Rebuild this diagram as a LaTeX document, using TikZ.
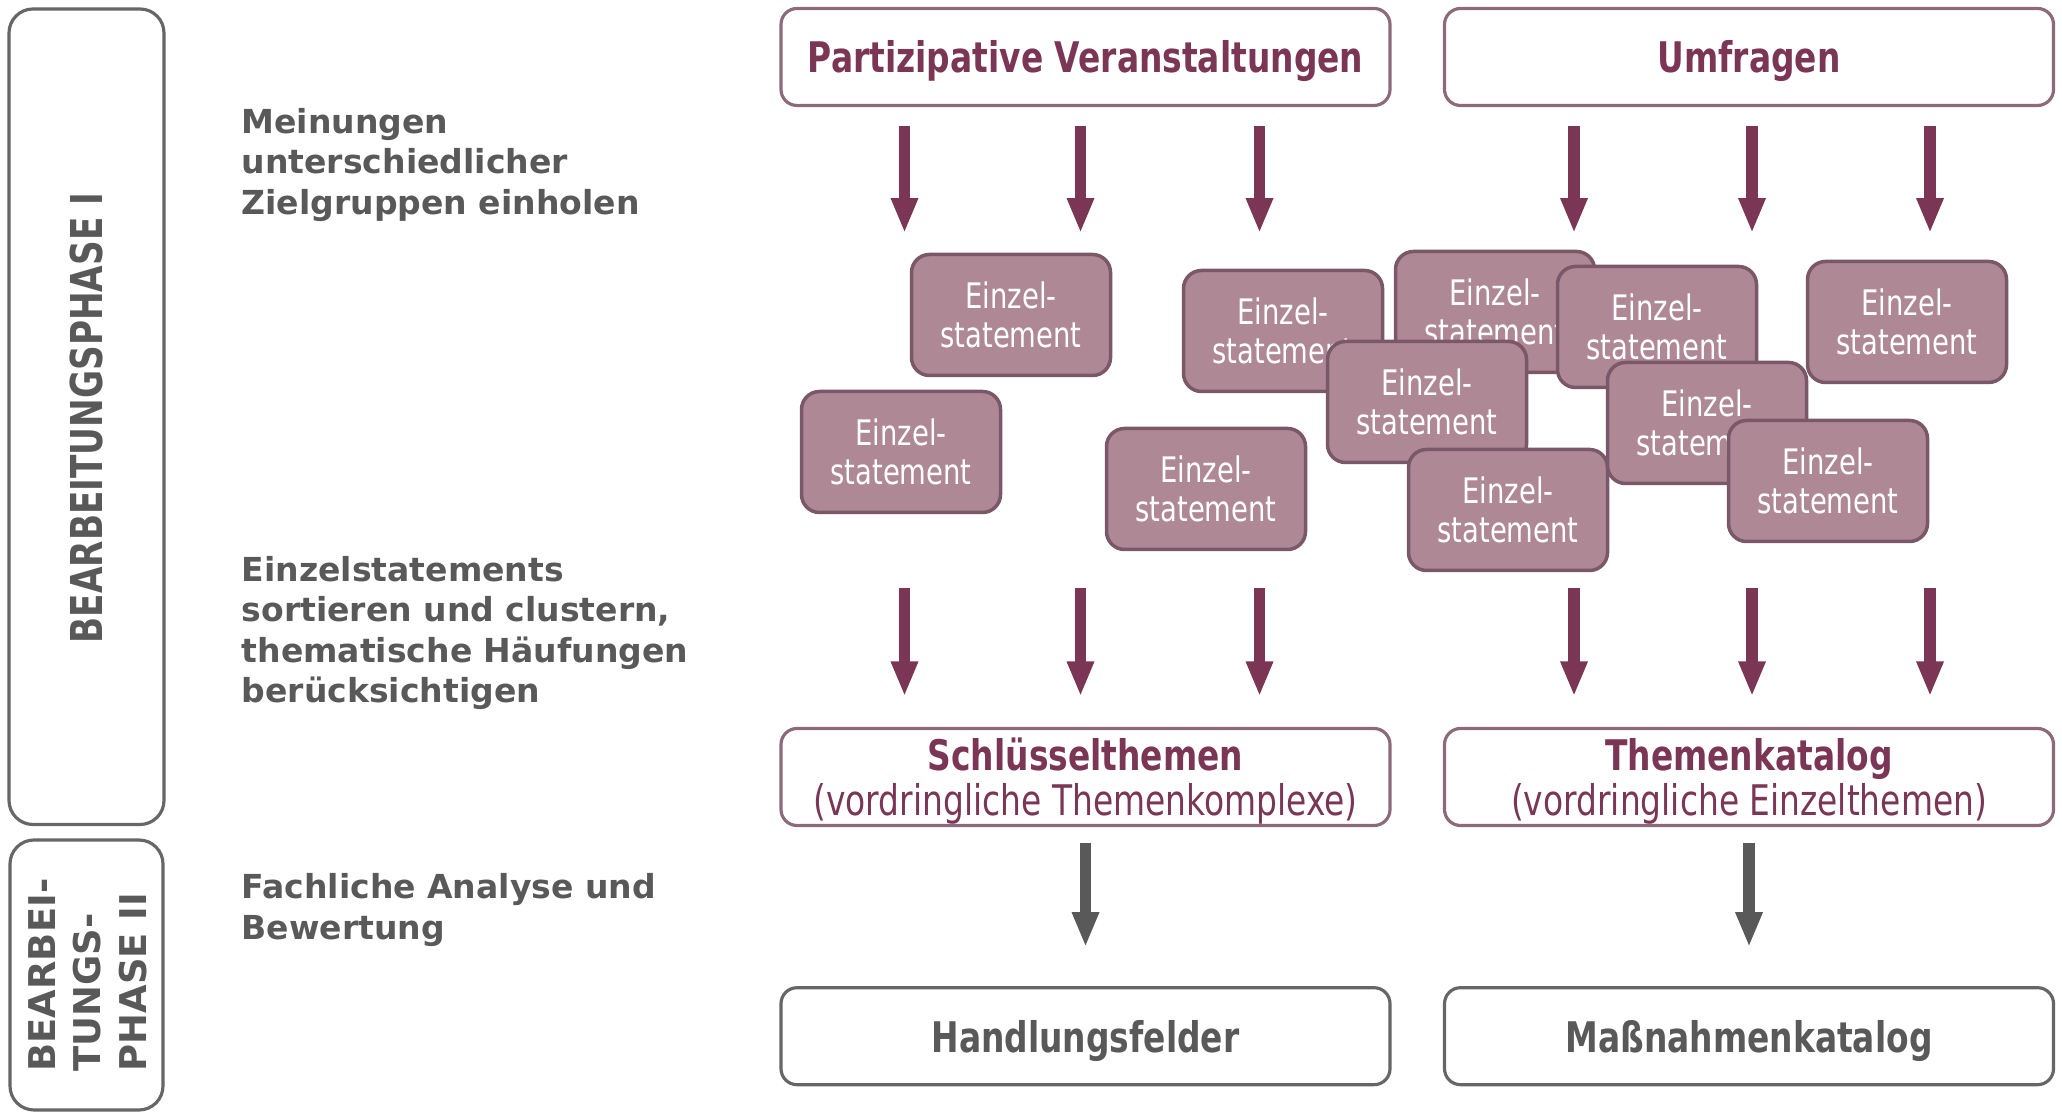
\documentclass[tikz,border=0pt]{standalone}
\usepackage{fontspec}
\setmainfont{DejaVu Sans}
\newfontfamily\narrowfont[FakeStretch=0.78]{DejaVu Sans}
\usetikzlibrary{arrows.meta}

\definecolor{plum}{HTML}{7B3656}
\definecolor{mauve}{HTML}{AF8896}
\definecolor{mauveline}{HTML}{7A5868}
\definecolor{boxline}{HTML}{8C6A79}
\definecolor{textgray}{HTML}{595959}
\definecolor{linegray}{HTML}{666666}

\tikzset{
  phasebox/.style={draw=linegray, line width=0.9pt, rounded corners=0.24cm},
  headbox/.style={draw=boxline, line width=0.9pt, rounded corners=0.16cm,
    minimum width=6.09cm, minimum height=0.97cm, inner ysep=0pt, align=center,
    text=plum, font=\narrowfont\fontsize{12}{12.7}\selectfont},
  titlebox/.style={headbox, text height=0.38cm, text depth=0.06cm,
    font=\narrowfont\bfseries\fontsize{12}{12.7}\selectfont},
  resultbox/.style={titlebox, draw=linegray, text=textgray},
  stmt/.style={draw=mauveline, fill=mauve, line width=1pt, rounded corners=0.18cm,
    minimum width=1.99cm, minimum height=1.21cm, inner sep=0pt, align=center,
    text=white, font=\narrowfont\fontsize{10}{11.2}\selectfont},
  steptext/.style={anchor=west, align=left, inner sep=0pt, text=textgray,
    font=\bfseries\fontsize{9.4}{11.4}\selectfont},
  flow/.style={draw=plum, line width=0.116cm, -{Triangle[width=0.25cm,length=0.35cm]}}
}

\begin{document}
\begin{tikzpicture}
\useasboundingbox (0,0) rectangle (20.62,11.12);

% the two phases on the left
\draw[phasebox] (0.09,2.875) rectangle (1.64,11.03);
\node[rotate=90, text=textgray, font=\narrowfont\bfseries\fontsize{12.5}{14}\selectfont] (ph1) at (0.87,6.94) {BEARBEITUNGSPHASE I};
\draw[phasebox] (0.10,0.02) rectangle (1.63,2.72);
\node[rotate=90, align=left, text=textgray, font=\bfseries\fontsize{10.5}{12.9}\selectfont] (ph2) at (0.875,1.37) {BEARBEI-\\TUNGS-\\PHASE II};

% what happens in each step
\node[steptext] (s1) at (2.41,9.47) {Meinungen\\unterschiedlicher\\Zielgruppen einholen};
\node[steptext] (s2) at (2.41,4.79) {Einzelstatements\\sortieren und clustern,\\thematische Häufungen\\berücksichtigen};
\node[steptext] (s3) at (2.41,2.02) {Fachliche Analyse und\\Bewertung};

% sources
\node[titlebox] (part) at (10.855,10.55) {Partizipative Veranstaltungen};
\node[titlebox] (umfr) at (17.49,10.55) {Umfragen};

% the single statements, in drawing order
\node[stmt] (e1) at (10.11,7.97) {Einzel-\\statement};
\node[stmt] (e2) at (9.01,6.60) {Einzel-\\statement};
\node[stmt] (e3) at (12.83,7.81) {Einzel-\\statement};
\node[stmt] (e4) at (12.06,6.23) {Einzel-\\statement};
\node[stmt] (e5) at (14.95,8.00) {Einzel-\\statement};
\node[stmt] (e6) at (16.57,7.85) {Einzel-\\statement};
\node[stmt] (e7) at (14.27,7.10) {Einzel-\\statement};
\node[stmt] (e8) at (15.08,6.02) {Einzel-\\statement};
\node[stmt] (e9) at (17.07,6.89) {Einzel-\\statement};
\node[stmt] (e10) at (18.28,6.31) {Einzel-\\statement};
\node[stmt] (e11) at (19.07,7.90) {Einzel-\\statement};

% clustered topics
\node[headbox, text height=0.85cm] (schl) at (10.855,3.35) {\textbf{Schlüsselthemen}\\(vordringliche Themenkomplexe)};
\node[headbox, text height=0.85cm] (kat) at (17.49,3.35) {\textbf{Themenkatalog}\\(vordringliche Einzelthemen)};

% results of phase II
\node[resultbox] (hand) at (10.855,0.758) {Handlungsfelder};
\node[resultbox] (mass) at (17.49,0.758) {Maßnahmenkatalog};

% arrows, first from the sources to the statements, then on to the topics
\foreach \dx in {-1.81,-0.05,1.74} {
  \draw[flow] ([xshift=\dx cm,yshift=-0.19cm]part.south) -- ++(0,-1.07);
  \draw[flow] ([xshift=\dx cm,yshift=1.385cm]schl.north) -- ([xshift=\dx cm,yshift=0.305cm]schl.north);
}
\foreach \dx in {-1.75,0.03,1.81} {
  \draw[flow] ([xshift=\dx cm,yshift=-0.19cm]umfr.south) -- ++(0,-1.07);
  \draw[flow] ([xshift=\dx cm,yshift=1.385cm]kat.north) -- ([xshift=\dx cm,yshift=0.305cm]kat.north);
}
\draw[flow, draw=textgray] ([yshift=-0.16cm]schl.south) -- ([yshift=0.39cm]hand.north);
\draw[flow, draw=textgray] ([yshift=-0.16cm]kat.south) -- ([yshift=0.39cm]mass.north);
\end{tikzpicture}
\end{document}
